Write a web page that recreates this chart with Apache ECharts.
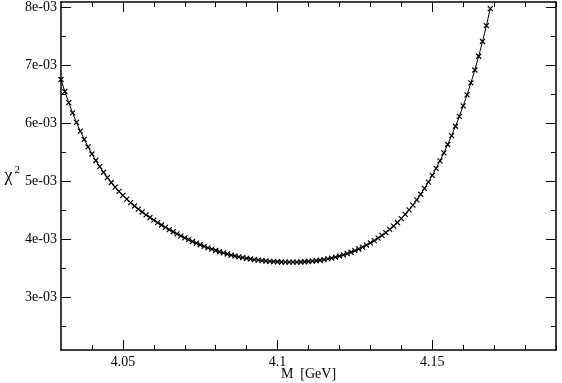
<!DOCTYPE html>
<html>
<head>
<meta charset="utf-8">
<script src="https://cdn.jsdelivr.net/npm/echarts@6/dist/echarts.min.js"></script>
<style>html,body{margin:0;padding:0;background:#fff;}#c{width:562px;height:383px;}</style>
</head>
<body>
<div id="c"></div>
<script>
// M [GeV]
const massValues = [4.03,4.03125,4.0325,4.03375,4.035,4.03625,4.0375,4.03875,4.04,4.04125,4.0425,4.04375,4.045,4.04625,4.0475,4.04875,4.05,4.05125,4.0525,4.05375,4.055,4.05625,4.0575,4.05875,4.06,4.06125,4.0625,4.06375,4.065,4.06625,4.0675,4.06875,4.07,4.07125,4.0725,4.07375,4.075,4.07625,4.0775,4.07875,4.08,4.08125,4.0825,4.08375,4.085,4.08625,4.0875,4.08875,4.09,4.09125,4.0925,4.09375,4.095,4.09625,4.0975,4.09875,4.1,4.10125,4.1025,4.10375,4.105,4.10625,4.1075,4.10875,4.11,4.11125,4.1125,4.11375,4.115,4.11625,4.1175,4.11875,4.12,4.12125,4.1225,4.12375,4.125,4.12625,4.1275,4.12875,4.13,4.13125,4.1325,4.13375,4.135,4.13625,4.1375,4.13875,4.14,4.14125,4.1425,4.14375,4.145,4.14625,4.1475,4.14875,4.15,4.15125,4.1525,4.15375,4.155,4.15625,4.1575,4.15875,4.16,4.16125,4.1625,4.16375,4.165,4.16625,4.1675,4.16875];
// chi^2
const chi2Values = [6.750e-3,6.543e-3,6.352e-3,6.175e-3,6.011e-3,5.859e-3,5.718e-3,5.587e-3,5.466e-3,5.353e-3,5.248e-3,5.150e-3,5.059e-3,4.974e-3,4.895e-3,4.821e-3,4.752e-3,4.687e-3,4.626e-3,4.569e-3,4.516e-3,4.465e-3,4.416e-3,4.370e-3,4.325e-3,4.282e-3,4.241e-3,4.201e-3,4.162e-3,4.125e-3,4.089e-3,4.054e-3,4.020e-3,3.988e-3,3.957e-3,3.928e-3,3.900e-3,3.873e-3,3.848e-3,3.824e-3,3.801e-3,3.780e-3,3.760e-3,3.741e-3,3.723e-3,3.707e-3,3.692e-3,3.678e-3,3.666e-3,3.655e-3,3.645e-3,3.636e-3,3.628e-3,3.621e-3,3.615e-3,3.611e-3,3.607e-3,3.604e-3,3.602e-3,3.601e-3,3.601e-3,3.602e-3,3.604e-3,3.607e-3,3.612e-3,3.618e-3,3.625e-3,3.634e-3,3.645e-3,3.657e-3,3.671e-3,3.687e-3,3.705e-3,3.725e-3,3.747e-3,3.772e-3,3.799e-3,3.828e-3,3.860e-3,3.894e-3,3.932e-3,3.972e-3,4.015e-3,4.061e-3,4.111e-3,4.165e-3,4.223e-3,4.285e-3,4.352e-3,4.424e-3,4.502e-3,4.585e-3,4.675e-3,4.771e-3,4.873e-3,4.981e-3,5.097e-3,5.218e-3,5.347e-3,5.484e-3,5.629e-3,5.782e-3,5.943e-3,6.113e-3,6.294e-3,6.486e-3,6.692e-3,6.913e-3,7.150e-3,7.405e-3,7.679e-3,7.973e-3];
// tick positions
const xMajorTicks = [4.05, 4.1, 4.15];
const xMinorTicks = [4.04, 4.06, 4.07, 4.08, 4.09, 4.11, 4.12, 4.13, 4.14, 4.16, 4.17, 4.18, 4.19];
const yMajorTicks = [0.003, 0.004, 0.005, 0.006, 0.007, 0.008];
const yMinorTicks = [0.0025, 0.0035, 0.0045, 0.0055, 0.0065, 0.0075];
const xTitle = 'M  [GeV]';

const FONT = "'Liberation Serif','Times New Roman',serif";
const X_MIN = 4.03, X_MAX = 4.19, Y_MIN = 0.002086, Y_MAX = 0.008086;

function xAx(pos, ticks, len, showLine, showLabel) {
  return {
    type: 'value', position: pos, min: X_MIN, max: X_MAX,
    axisLine: { show: showLine, onZero: false, lineStyle: { color: '#000', width: 1.5 } },
    axisTick: { show: true, inside: true, length: len, customValues: ticks, lineStyle: { color: '#000', width: 1 } },
    axisLabel: { show: showLabel, customValues: ticks, color: '#000', fontFamily: FONT, fontSize: 14, margin: 5,
      formatter: v => String(+(+v).toFixed(2)) },
    splitLine: { show: false }, minorTick: { show: false }
  };
}
function yAx(pos, ticks, len, showLine, showLabel) {
  return {
    type: 'value', position: pos, min: Y_MIN, max: Y_MAX,
    axisLine: { show: showLine, onZero: false, lineStyle: { color: '#000', width: 1.5 } },
    axisTick: { show: true, inside: true, length: len, customValues: ticks, lineStyle: { color: '#000', width: 1 } },
    axisLabel: { show: showLabel, customValues: ticks, color: '#000', fontFamily: FONT, fontSize: 14, margin: 4,
      formatter: v => Math.round(v * 1000) + 'e-03' },
    splitLine: { show: false }, minorTick: { show: false }
  };
}

const xAxes = [
  xAx('bottom', xMajorTicks, 10, true, true),
  xAx('bottom', xMinorTicks, 5, false, false),
  xAx('top', xMajorTicks, 10, true, false),
  xAx('top', xMinorTicks, 5, false, false)
];
xAxes[0].name = xTitle;
xAxes[0].nameLocation = 'middle';
xAxes[0].nameGap = 17;
xAxes[0].nameMoveOverlap = false;
xAxes[0].nameTextStyle = { color: '#000', fontFamily: FONT, fontSize: 14 };

const yAxes = [
  yAx('left', yMajorTicks, 10, true, true),
  yAx('left', yMinorTicks, 5, false, false),
  yAx('right', yMajorTicks, 10, true, false),
  yAx('right', yMinorTicks, 5, false, false)
];
yAxes[0].name = '{c|χ}{s|2}';
yAxes[0].nameLocation = 'middle';
yAxes[0].nameRotate = 0;
yAxes[0].nameGap = 41;
yAxes[0].nameMoveOverlap = false;
yAxes[0].nameTextStyle = {
  color: '#000', fontFamily: FONT,
  rich: {
    c: { fontSize: 18, fontFamily: FONT, color: '#000' },
    s: { fontSize: 11, fontFamily: FONT, color: '#000', verticalAlign: 'top', padding: [0, 0, 12, 2] }
  }
};

const chart = echarts.init(document.getElementById('c'), null, { renderer: 'canvas' });
chart.setOption({
  animation: false,
  backgroundColor: '#fff',
  grid: { left: 61, right: 6, top: 2, bottom: 33, containLabel: false, outerBoundsMode: 'none' },
  xAxis: xAxes,
  yAxis: yAxes,
  series: [{
    type: 'line',
    xAxisIndex: 0, yAxisIndex: 0,
    data: massValues.map((m, i) => [m, chi2Values[i]]),
    lineStyle: { color: '#000', width: 1 },
    symbol: 'path://M0,0L10,10M10,0L0,10',
    symbolSize: 5,
    showAllSymbol: true,
    itemStyle: { color: 'rgba(0,0,0,0)', borderColor: '#000', borderWidth: 1.2 },
    clip: false
  }]
});
</script>
</body>
</html>
